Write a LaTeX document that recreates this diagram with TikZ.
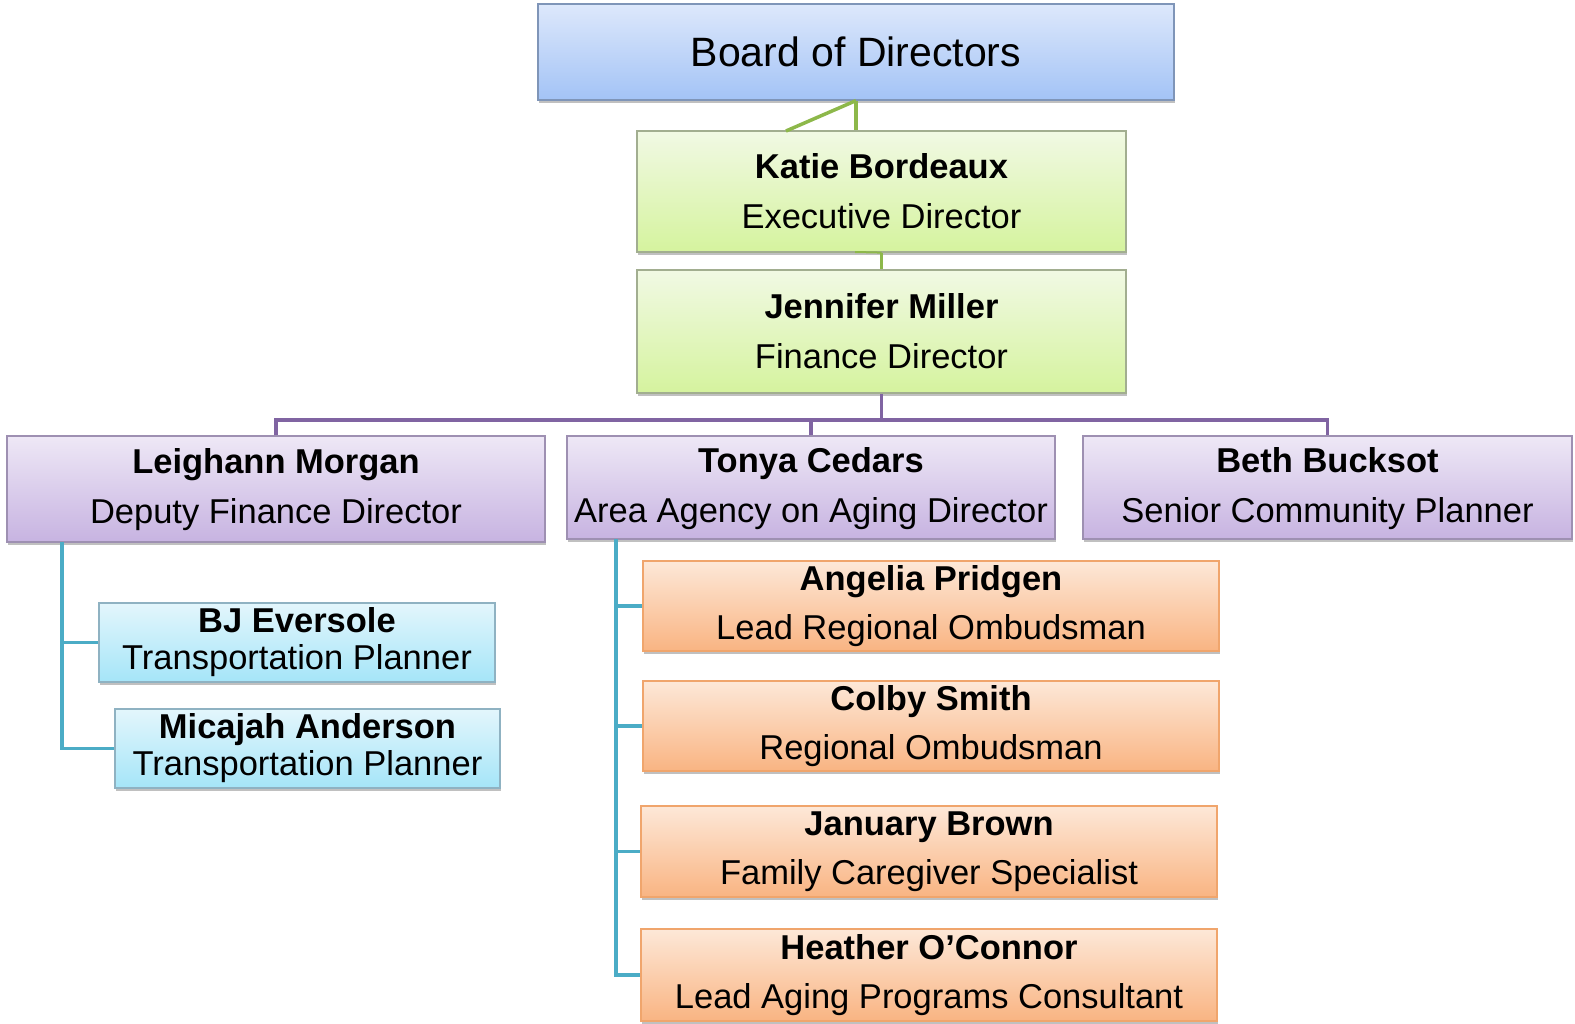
\documentclass[tikz,border=0pt]{standalone}
\usepackage{fontspec}
\setmainfont{Liberation Sans}
\usetikzlibrary{shadows}
\definecolor{bdtop}{HTML}{DDE8FB}
\definecolor{bdbot}{HTML}{A3C3F6}
\definecolor{bddraw}{HTML}{7F95B8}
\definecolor{grtop}{HTML}{F1F9E4}
\definecolor{grbot}{HTML}{D5F39E}
\definecolor{grdraw}{HTML}{A2AE90}
\definecolor{putop}{HTML}{EEE8F6}
\definecolor{pubot}{HTML}{C7B3E1}
\definecolor{pudraw}{HTML}{9E90B2}
\definecolor{bltop}{HTML}{E3F6FC}
\definecolor{blbot}{HTML}{A5E5F8}
\definecolor{bldraw}{HTML}{8FB2C2}
\definecolor{ortop}{HTML}{FDE8D8}
\definecolor{orbot}{HTML}{F9B482}
\definecolor{ordraw}{HTML}{F0A56C}
\definecolor{grline}{HTML}{8DB84A}
\definecolor{puline}{HTML}{8064A2}
\definecolor{teline}{HTML}{4BACC6}
\tikzset{
  boxbase/.style={rectangle, inner sep=0pt, align=center, line width=1.2pt,
    drop shadow={shadow xshift=1pt, shadow yshift=-3pt, opacity=0.35, fill=black!70},
    font=\fontsize{34.5}{50}\selectfont},
  boardbox/.style={boxbase, top color=bdtop, bottom color=bdbot, draw=bddraw,
    font=\fontsize{41}{48}\selectfont},
  greenbox/.style={boxbase, top color=grtop, bottom color=grbot, draw=grdraw},
  purplebox/.style={boxbase, top color=putop, bottom color=pubot, draw=pudraw, text depth=6pt},
  bluebox/.style={boxbase, top color=bltop, bottom color=blbot, draw=bldraw,
    font=\fontsize{34.5}{37}\selectfont},
  orangebox/.style={boxbase, top color=ortop, bottom color=orbot, draw=ordraw,
    font=\fontsize{34.5}{49.5}\selectfont},
  greenline/.style={draw=grline, line width=3.5pt},
  purpleline/.style={draw=puline, line width=3.5pt},
  tealline/.style={draw=teline, line width=3.5pt},
}
\begin{document}
\begin{tikzpicture}[x=1pt,y=-1pt]
\useasboundingbox[fill=white] (0,0) rectangle (1575,1024);

\node[boardbox, minimum width=636pt, minimum height=96pt] (board) at (856,52) {Board of Directors};
\node[greenbox, minimum width=489pt, minimum height=121pt] (katie) at (881.5,191.5) {\textbf{Katie Bordeaux}\\Executive Director};
\node[greenbox, minimum width=489pt, minimum height=123pt] (jen) at (881.5,331.5) {\textbf{Jennifer Miller}\\Finance Director};
\node[purplebox, minimum width=538pt, minimum height=106pt] (leigh) at (276,489) {\textbf{Leighann Morgan}\\Deputy Finance Director};
\node[purplebox, minimum width=488pt, minimum height=103pt] (tonya) at (811,487.5) {\textbf{Tonya Cedars}\\Area Agency on Aging Director};
\node[purplebox, minimum width=489pt, minimum height=103pt] (beth) at (1327.5,487.5) {\textbf{Beth Bucksot}\\Senior Community Planner};
\node[bluebox, minimum width=396pt, minimum height=79pt] (bj) at (297,642.5) {\textbf{BJ Eversole}\\Transportation Planner};
\node[bluebox, minimum width=385pt, minimum height=79pt] (mic) at (307.5,748.5) {\textbf{Micajah Anderson}\\Transportation Planner};
\node[orangebox, minimum width=576pt, minimum height=90pt] (ang) at (931,606) {\textbf{Angelia Pridgen}\\Lead Regional Ombudsman};
\node[orangebox, minimum width=576pt, minimum height=90pt] (col) at (931,726) {\textbf{Colby Smith}\\Regional Ombudsman};
\node[orangebox, minimum width=576pt, minimum height=91pt] (jan) at (929,851.5) {\textbf{January Brown}\\Family Caregiver Specialist};
\node[orangebox, minimum width=576pt, minimum height=92pt] (hea) at (929,975) {\textbf{Heather O’Connor}\\Lead Aging Programs Consultant};

% green connectors
\coordinate (kdiag) at (786,131);
\coordinate (kstub) at (855,252);
\draw[greenline] (board.south) -- (board.south |- katie.north);
\draw[greenline] (board.south) -- (kdiag);
\draw[greenline] (katie.south) -- (jen.north);
\draw[greenline, line width=2pt] (kstub) -- (katie.south);

% purple connectors
\coordinate (bar) at (881.5,420);
\draw[purpleline] (jen.south) -- (jen.south |- bar);
\draw[purpleline] (leigh.north) -- (leigh.north |- bar) -- (beth.north |- bar) -- (beth.north);
\draw[purpleline] (tonya.north) -- (tonya.north |- bar);

% teal connectors
\coordinate (ltop) at (62,542);
\draw[tealline] (ltop) |- (bj.west);
\draw[tealline] (ltop) |- (mic.west);
\coordinate (ttop) at (616,539);
\draw[tealline] (ttop) |- (ang.west);
\draw[tealline] (ttop) |- (col.west);
\draw[tealline] (ttop) |- (jan.west);
\draw[tealline] (ttop) |- (hea.west);
\end{tikzpicture}
\end{document}
